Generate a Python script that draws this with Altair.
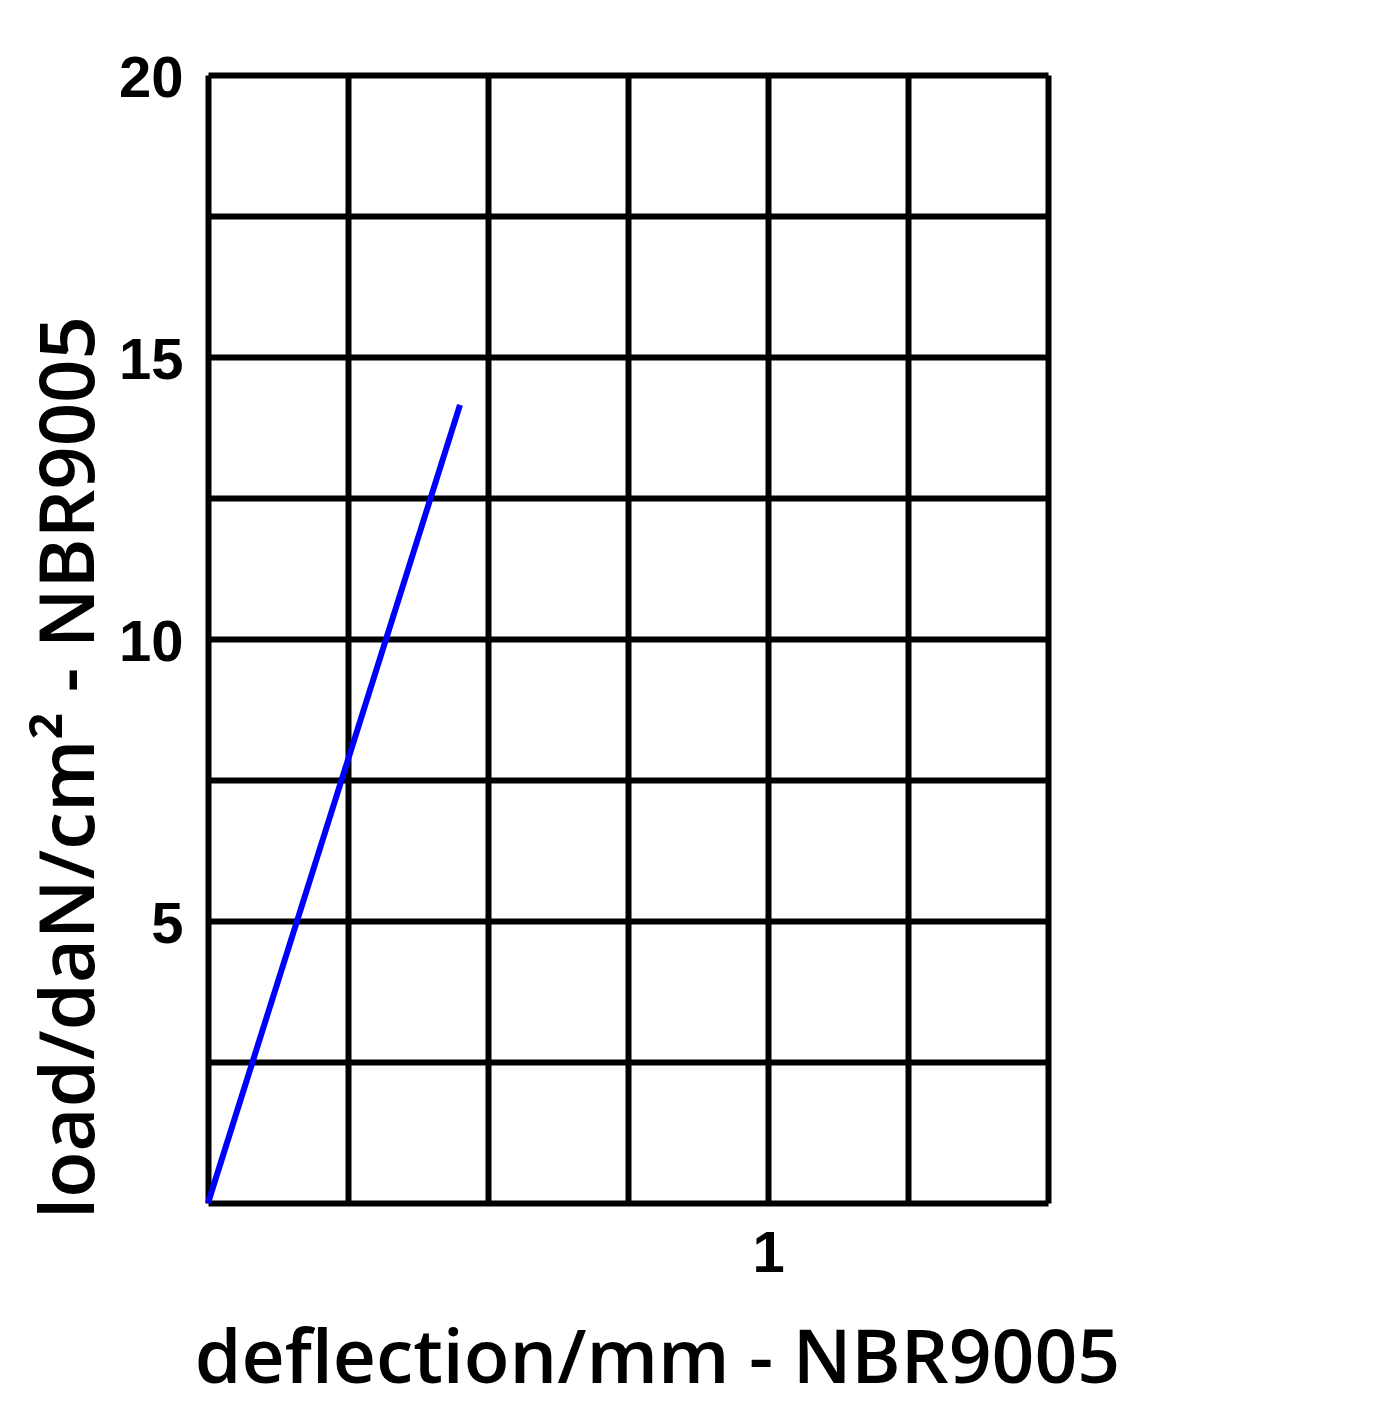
import altair as alt
import pandas as pd

# data
deflection = [0.0, 0.45]
load = [0.0, 14.15]
x_grid = [0, 0.25, 0.5, 0.75, 1.0, 1.25, 1.5]
y_grid = [0, 2.5, 5, 7.5, 10, 12.5, 15, 17.5, 20]

df = pd.DataFrame({"deflection": deflection, "load": load})

chart = alt.Chart(df).mark_line(color="#0000ff", strokeWidth=6).encode(
    x=alt.X(
        "deflection:Q",
        scale=alt.Scale(domain=[0, 1.5], nice=False, zero=False),
        axis=alt.Axis(
            values=x_grid,
            grid=True,
            gridColor="black",
            gridWidth=6,
            gridOpacity=1,
            domain=False,
            ticks=False,
            tickSize=0,
            labelExpr="datum.value == 1 ? '1' : ''",
            labelFont="Liberation Sans",
            labelFontWeight="bold",
            labelFontSize=58,
            labelColor="black",
            labelPadding=22,
            title="deflection/mm - NBR9005",
            titleFont="Open Sans",
            titleFontWeight=600,
            titleFontSize=75,
            titleColor="black",
            titleX=449,
            titleY=179,
            titleAlign="center",
            titleBaseline="alphabetic",
        ),
    ),
    y=alt.Y(
        "load:Q",
        scale=alt.Scale(domain=[0, 20], nice=False, zero=False),
        axis=alt.Axis(
            values=y_grid,
            grid=True,
            gridColor="black",
            gridWidth=6,
            gridOpacity=1,
            domain=False,
            ticks=False,
            tickSize=0,
            labelExpr="(datum.value % 5 == 0 && datum.value > 0) ? datum.label : ''",
            labelFont="Liberation Sans",
            labelFontWeight="bold",
            labelFontSize=58,
            labelColor="black",
            labelPadding=25,
            labelOffset=4,
            title="load/daN/cm² - NBR9005",
            titleFont="Open Sans",
            titleFontWeight=600,
            titleFontSize=76,
            titleColor="black",
            titleAngle=-90,
            titleX=-115,
            titleY=692,
            titleAlign="center",
            titleBaseline="alphabetic",
        ),
    ),
).properties(
    width=840,
    height=1128,
    autosize=alt.AutoSizeParams(type="none"),
    padding={"left": 200, "top": 67, "right": 300, "bottom": 215},
).configure_view(
    stroke="black", strokeWidth=6
).configure(background="white")

chart.save("out.html", embed_options={"renderer": "svg", "actions": False})
